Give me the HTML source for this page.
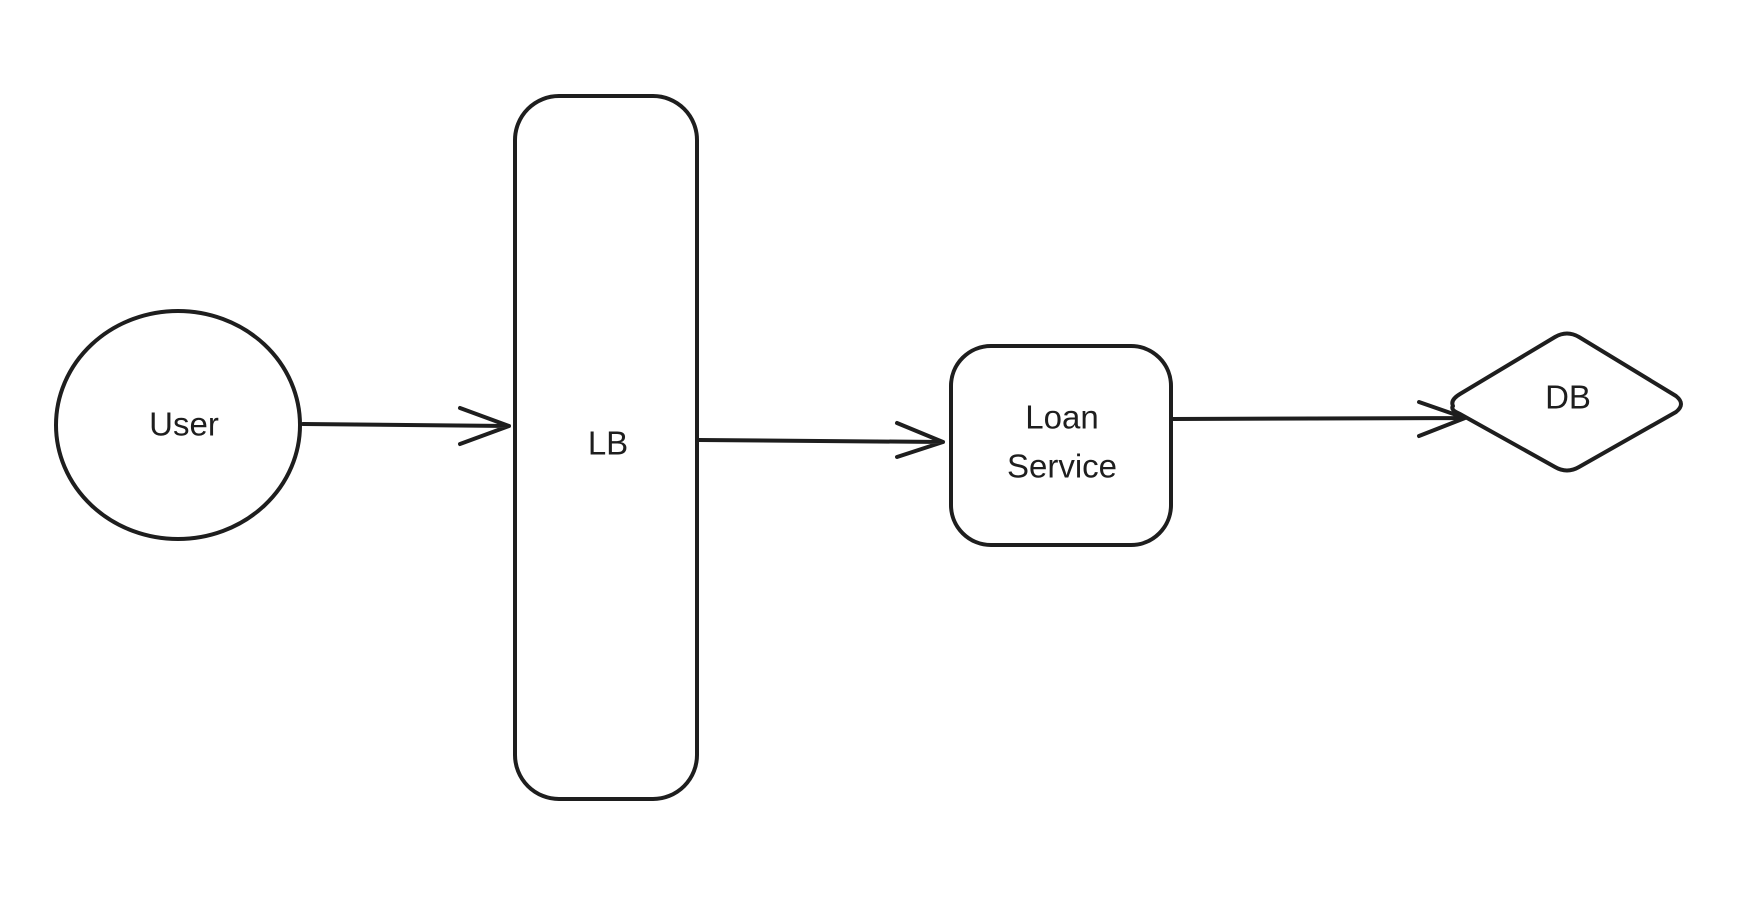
<!DOCTYPE html>
<html><head><meta charset="utf-8"><style>
html,body{margin:0;padding:0;background:#fff;}
svg{display:block}
text{font-family:"Liberation Sans",sans-serif;font-size:33px;fill:#1e1e1e;text-anchor:middle;dominant-baseline:middle}
</style></head><body>
<svg width="1738" height="904" viewBox="0 0 1738 904" xmlns="http://www.w3.org/2000/svg">
<g fill="none" stroke="#1e1e1e" stroke-width="4" stroke-linecap="round" stroke-linejoin="round">
<ellipse cx="178" cy="425" rx="122" ry="114"/>
<rect x="515" y="96" width="182" height="703" rx="44"/>
<rect x="951" y="346" width="220" height="199" rx="40"/>
<path d="M1453 406 Q1450 400 1460 394 L1555 337 Q1567 330 1579 337 L1676 396 Q1686 404 1676 412 L1579 467 Q1567 474 1555 467 L1460 414 Q1450 410 1453 406 Z"/>
<path d="M303 424 L509 426 M460 408 L509 426 L460 444"/>
<path d="M699 440 L943 442 M897 423 L943 442 L897 457"/>
<path d="M1173 419 L1465 418 M1419 402 L1465 418 L1419 436"/>
</g>
<text x="184" y="427">User</text>
<text x="608" y="446">LB</text>
<text x="1062" y="420">Loan</text>
<text x="1062" y="469">Service</text>
<text x="1568" y="400">DB</text>
</svg>
</body></html>
